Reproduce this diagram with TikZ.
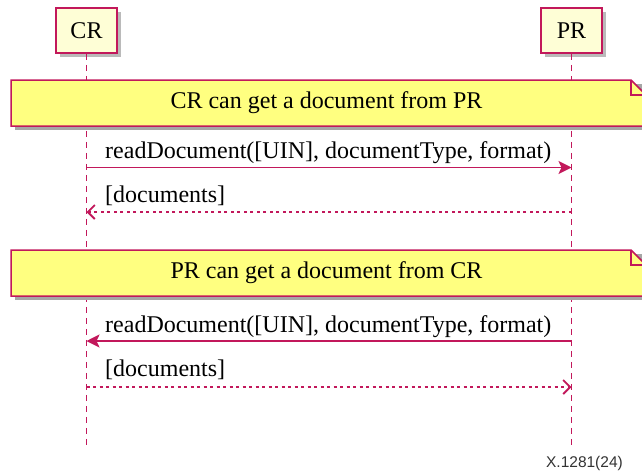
\documentclass[tikz,border=0pt]{standalone}
\usepackage{fontspec}
\setmainfont{Liberation Serif}
\newfontfamily\labelsans{Liberation Sans}
\usetikzlibrary{arrows.meta,shadows}
\definecolor{umlborder}{HTML}{C2185B}
\definecolor{partfill}{HTML}{FEFED6}
\definecolor{notefill}{HTML}{FFFF80}
\begin{document}
\begin{tikzpicture}[x=1pt,y=-1pt,
  participant/.style={draw=umlborder,fill=partfill,line width=1.5pt,minimum width=61pt,minimum height=45pt,inner sep=0pt,font=\fontsize{24}{28}\selectfont,drop shadow={shadow xshift=4pt,shadow yshift=-4pt,fill=black!45,opacity=0.6}},
  lifeline/.style={umlborder,line width=1.5pt,dash pattern=on 6pt off 5pt},
  notebody/.style={draw=umlborder,fill=notefill,line width=1.5pt},
  noteshadow/.style={fill=black!35},
  notetext/.style={font=\fontsize{24}{28}\selectfont,inner sep=0pt},
  msg/.style={umlborder,line width=1.8pt,-{Stealth[length=13pt,width=13pt,inset=3pt]}},
  ret/.style={umlborder,line width=1.8pt,dash pattern=on 3pt off 3.5pt,-{Straight Barb[length=7pt,width=14pt,line width=1.8pt]}},
  msglabel/.style={anchor=base west,inner sep=0pt,font=\fontsize{24}{28}\selectfont},
  figlabel/.style={anchor=base east,inner sep=0pt,text=black!80,font=\labelsans\fontsize{15.5}{18}\selectfont}
]
\useasboundingbox (0,0) rectangle (642,472);
\fill[white] (0,0) rectangle (642,472);

% participants
\node[participant] (CR) at (86.5,30.5) {CR};
\node[participant] (PR) at (571.5,30.5) {PR};

% lifelines
\coordinate (CRend) at (86.5,447);
\coordinate (PRend) at (571.5,447);
\draw[lifeline] (CR.south) -- (CRend);
\draw[lifeline] (PR.south) -- (PRend);

% note 1
\fill[noteshadow] (15,84) rectangle (650,130);
\draw[notebody] (11,80) -- (631,80) -- (646,95) -- (646,126) -- (11,126) -- cycle;
\draw[umlborder,line width=1.5pt] (631,80) -- (631,95) -- (646,95);
\node[notetext] (note1) at (326.5,103) {CR can get a document from PR};

% note 2
\fill[noteshadow] (15,254) rectangle (650,300);
\draw[notebody] (11,250) -- (631,250) -- (646,265) -- (646,296) -- (11,296) -- cycle;
\draw[umlborder,line width=1.5pt] (631,250) -- (631,265) -- (646,265);
\node[notetext] (note2) at (326.5,273) {PR can get a document from CR};

% messages
\coordinate (c1) at (86.5,167.5);
\coordinate (p1) at (571.5,167.5);
\draw[msg] (c1) -- (p1);
\node[msglabel] (m1) at (105,158) {readDocument([UIN], documentType, format)};

\coordinate (c2) at (86.5,212);
\coordinate (p2) at (571.5,212);
\draw[ret] (p2) -- (c2);
\node[msglabel] (m2) at (105,202) {[documents]};

\coordinate (c3) at (86.5,341);
\coordinate (p3) at (571.5,341);
\draw[msg] (p3) -- (c3);
\node[msglabel] (m3) at (105,332) {readDocument([UIN], documentType, format)};

\coordinate (c4) at (86.5,387);
\coordinate (p4) at (571.5,387);
\draw[ret] (c4) -- (p4);
\node[msglabel] (m4) at (105,376) {[documents]};

\node[figlabel] (fig) at (623,467) {X.1281(24)};
\end{tikzpicture}
\end{document}
